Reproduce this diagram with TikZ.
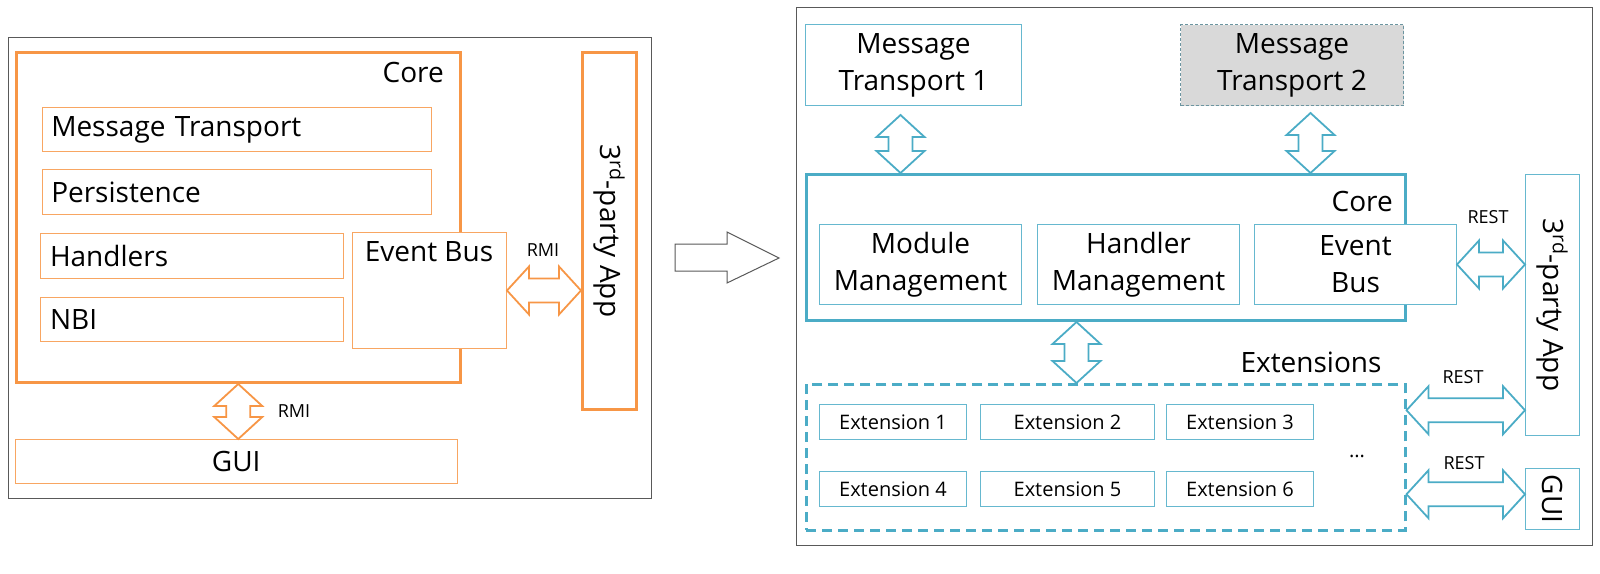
\documentclass[tikz,border=0pt]{standalone}
\usepackage{fontspec}
\setmainfont{Open Sans}
\usetikzlibrary{calc}
\definecolor{coreorange}{HTML}{F79646}
\definecolor{coreblue}{HTML}{4BACC6}
\definecolor{framegray}{HTML}{595959}

% hollow double arrows, drawn between two named points
\newcommand{\hdarrow}[3]{%
  \draw[#1] let \p1=#2, \p2=#3 in
    (\x1,\y1) -- (\x1+22pt,\y1+24pt) -- (\x1+22pt,\y1+12pt)
    -- (\x2-22pt,\y1+12pt) -- (\x2-22pt,\y1+24pt) -- (\x2,\y1)
    -- (\x2-22pt,\y1-24pt) -- (\x2-22pt,\y1-12pt)
    -- (\x1+22pt,\y1-12pt) -- (\x1+22pt,\y1-24pt) -- cycle;}
\newcommand{\vdarrow}[3]{%
  \draw[#1] let \p1=#2, \p2=#3 in
    (\x1,\y1) -- (\x1+24pt,\y1-22pt) -- (\x1+12pt,\y1-22pt)
    -- (\x1+12pt,\y2+22pt) -- (\x1+24pt,\y2+22pt) -- (\x1,\y2)
    -- (\x1-24pt,\y2+22pt) -- (\x1-12pt,\y2+22pt)
    -- (\x1-12pt,\y1-22pt) -- (\x1-24pt,\y1-22pt) -- cycle;}

\begin{document}
\begin{tikzpicture}[x=1pt, y=-1pt,
    big/.style={font=\fontsize{28}{37}\selectfont},
    small/.style={font=\fontsize{18}{22}\selectfont},
    ext/.style={font=\fontsize{20}{24}\selectfont},
    lbl/.style={inner sep=0pt},
    frame/.style={draw=framegray, line width=1.2pt, anchor=north west},
    obox/.style={draw=coreorange!85, line width=1pt, fill=white, anchor=north west, big},
    bbox/.style={draw=coreblue!85, line width=1pt, fill=white, anchor=north west, big, align=center},
    oarrow/.style={draw=coreorange, line width=1.8pt, fill=white},
    barrow/.style={draw=coreblue, line width=1.8pt, fill=white}]
    \useasboundingbox (0,0) rectangle (1600,573);

    % Left: the old design
    \node[frame, minimum width=643, minimum height=461] (left) at (7.5,37) {};
    \node[obox, draw=coreorange, line width=3pt, minimum width=444.5, minimum height=330] (core) at (14.5,51) {};
    \node[big, lbl, anchor=east] at (444,72) {Core};
    \node[obox, minimum width=389.5, minimum height=44, text width=371, align=left] (mt) at (41.5,107) {Message Transport};
    \node[obox, minimum width=389.5, minimum height=45, text width=371, align=left] (pers) at (41.5,169) {Persistence};
    \node[obox, minimum width=303, minimum height=45, text width=284, align=left] (hand) at (40,233) {Handlers};
    \node[obox, minimum width=303, minimum height=44, text width=284, align=left] (nbi) at (40,297) {NBI};
    \node[obox, minimum width=154, minimum height=116] (eb) at (352,232) {};
    \node[big, lbl] at (429,252) {Event Bus};
    \node[obox, draw=coreorange, line width=3pt, minimum width=54, minimum height=357] (tp) at (581,51) {};
    \node[big, lbl, rotate=-90] at (tp.center) {3\textsuperscript{rd}-party App};
    \node[obox, minimum width=442.5, minimum height=44] (gui) at (14.5,439) {GUI};

    \hdarrow{oarrow}{(eb.east)}{(tp.west)}
    \node[small, lbl] at (543,250) {RMI};
    \vdarrow{oarrow}{(core.south)}{(gui.north)}
    \node[small, lbl] at (294,411) {RMI};

    % Big hollow arrow
    \draw[draw=black!65, line width=1pt, fill=white]
        (675,244) -- (727,244) -- (727,232) -- (779,258)
        -- (727,283) -- (727,271) -- (675,271) -- cycle;

    % Right: the new design
    \node[frame, minimum width=796, minimum height=538] (right) at (796,7) {};
    \node[bbox, minimum width=216, minimum height=81] (mtone) at (805,24) {Message\\Transport 1};
    \node[bbox, draw=coreblue!60!black!70, densely dashed, fill=black!15, minimum width=223, minimum height=81] (mttwo) at (1180,24) {Message\\Transport 2};
    \node[bbox, draw=coreblue, line width=3pt, minimum width=599, minimum height=146] (bcore) at (805,173) {};
    \node[big, lbl, anchor=east] at (1393,201) {Core};
    \node[bbox, minimum width=202, minimum height=80] (modm) at (819,224) {Module\\Management};
    \node[bbox, minimum width=202, minimum height=80] (handm) at (1037,224) {Handler\\Management};
    \node[bbox, minimum width=202, minimum height=80] (beb) at (1254,224) {Event\\Bus};
    \node[bbox, minimum width=54, minimum height=261] (btp) at (1525,174) {};
    \node[big, lbl, rotate=-90] at (btp.center) {3\textsuperscript{rd}-party App};

    \vdarrow{barrow}{([xshift=-13pt,yshift=-9pt]mtone.south)}{(bcore.north)}
    \vdarrow{barrow}{([xshift=18.5pt,yshift=-7pt]mttwo.south)}{(bcore.north)}
    \hdarrow{barrow}{(beb.east)}{(btp.west)}
    \node[small, lbl] at (1488,217) {REST};

    % Extensions
    \node[big, lbl] at (1311,362) {Extensions};
    \node[anchor=north west, draw=coreblue, line width=2.5pt, dash pattern=on 10pt off 6pt, minimum width=599, minimum height=146] (extb) at (805,383) {};
    \node[bbox, ext, minimum width=147, minimum height=35] (eone) at (819,404) {Extension 1};
    \node[bbox, ext, minimum width=174, minimum height=35] (etwo) at (980,404) {Extension 2};
    \node[bbox, ext, minimum width=147, minimum height=35] (ethree) at (1166,404) {Extension 3};
    \node[bbox, ext, minimum width=147, minimum height=35] (efour) at (819,471) {Extension 4};
    \node[bbox, ext, minimum width=174, minimum height=35] (efive) at (980,471) {Extension 5};
    \node[bbox, ext, minimum width=147, minimum height=35] (esix) at (1166,471) {Extension 6};
    \node[ext, lbl, anchor=base] at (1357,457) {...};
    \vdarrow{barrow}{([xshift=-29.5pt]bcore.south)}{(extb.north)}

    \node[bbox, minimum width=54, minimum height=61] (bgui) at (1525,468) {};
    \node[big, lbl, rotate=-90] at (bgui.center) {GUI};
    \hdarrow{barrow}{([yshift=47pt]extb.east)}{(btp.west)}
    \node[small, lbl] at (1463,377) {REST};
    \hdarrow{barrow}{([yshift=-37pt]extb.east)}{(bgui.west)}
    \node[small, lbl] at (1464,463) {REST};
\end{tikzpicture}
\end{document}
